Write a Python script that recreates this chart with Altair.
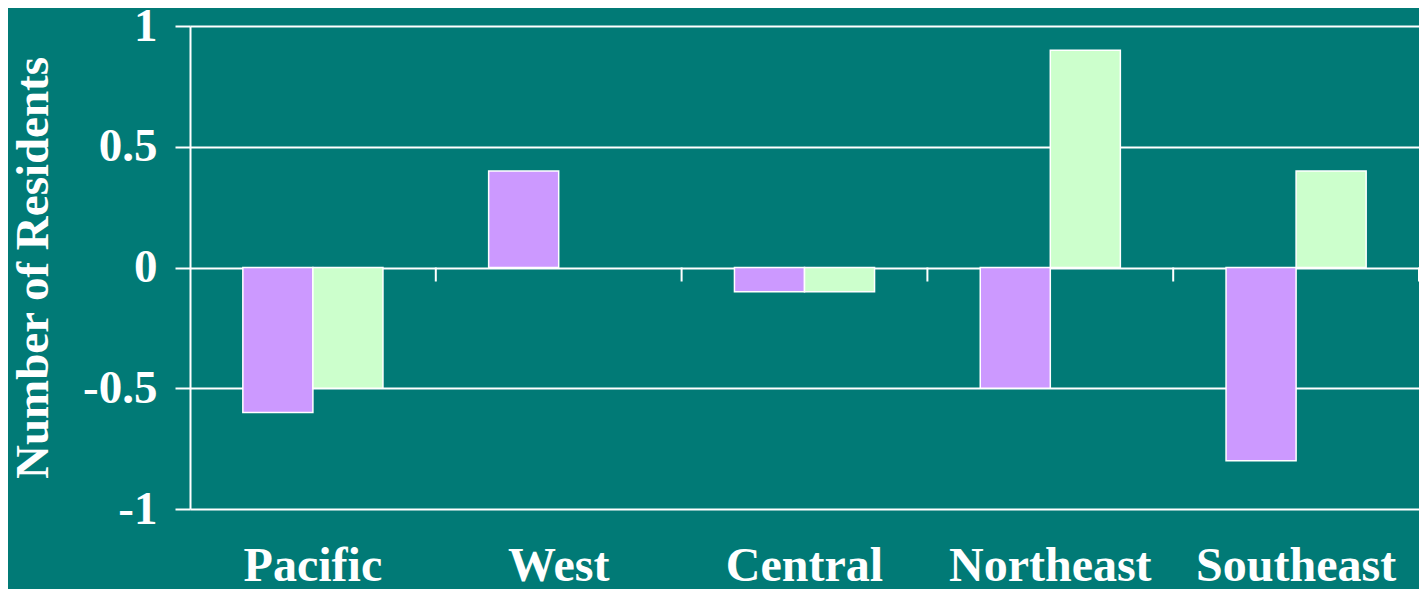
import altair as alt
import pandas as pd

regions = ["Pacific", "West", "Central", "Northeast", "Southeast"]
series_names = ["Series A", "Series B"]
series_a = [-0.6, 0.4, -0.1, -0.5, -0.8]
series_b = [-0.5, None, -0.1, 0.9, 0.4]
bar_colors = ["#CC99FF", "#CCFFCC"]
y_ticks = [-1, -0.5, 0, 0.5, 1]
# category boundaries (in category units) where the zero line carries tick marks
boundaries = list(range(1, len(regions) + 1))

rows = []
for r, a, b in zip(regions, series_a, series_b):
    rows.append({"region": r, "series": series_names[0], "value": a})
    if b is not None:
        rows.append({"region": r, "series": series_names[1], "value": b})
df = pd.DataFrame(rows)
bdf = pd.DataFrame({"b": boundaries})

FONT = "Liberation Serif"

x_scale = alt.Scale(domain=regions, paddingInner=0.43, paddingOuter=0.215)
y_scale = alt.Scale(domain=[-1, 1], nice=False)

bars = alt.Chart(df).mark_bar(stroke="white", strokeWidth=1.5).encode(
    x=alt.X("region:N", scale=x_scale, sort=regions,
            axis=alt.Axis(title=None, domain=False, ticks=False, grid=False,
                          labelAngle=0, labelFont=FONT, labelFontSize=48,
                          labelFontWeight="bold", labelColor="white",
                          labelPadding=33, labelLimit=0)),
    xOffset=alt.XOffset("series:N", sort=series_names),
    y=alt.Y("value:Q", scale=y_scale,
            axis=alt.Axis(title="Number of Residents", values=y_ticks,
                          labelExpr="toString(datum.value)",
                          grid=True, gridColor="white", gridWidth=2, gridOpacity=1,
                          domain=True, domainColor="white", domainWidth=2,
                          ticks=True, tickColor="white", tickWidth=2, tickSize=15,
                          labelFont=FONT, labelFontSize=47, labelFontWeight="bold",
                          labelColor="white", labelPadding=18,
                          titleFont=FONT, titleFontSize=47, titleFontWeight="bold",
                          titleColor="white", titlePadding=25)),
    color=alt.Color("series:N", sort=series_names,
                    scale=alt.Scale(domain=series_names, range=bar_colors),
                    legend=None),
)

zero_ticks = alt.Chart(bdf).mark_rule(color="white", strokeWidth=2).encode(
    x=alt.X("b:Q", scale=alt.Scale(domain=[0, len(regions)], nice=False, zero=False),
            axis=None),
    y=alt.Y(datum=0, scale=y_scale),
    y2=alt.Y2(datum=-0.058),
)

chart = alt.layer(bars, zero_ticks).resolve_scale(x="independent").properties(
    width=1229, height=483,
    autosize=alt.AutoSizeParams(type="none"),
    padding={"left": 182, "top": 18, "right": 0, "bottom": 80},
    background="#017a76",
).configure_view(stroke=None)

chart.save("out.html", embed_options={"renderer": "svg", "actions": False})
